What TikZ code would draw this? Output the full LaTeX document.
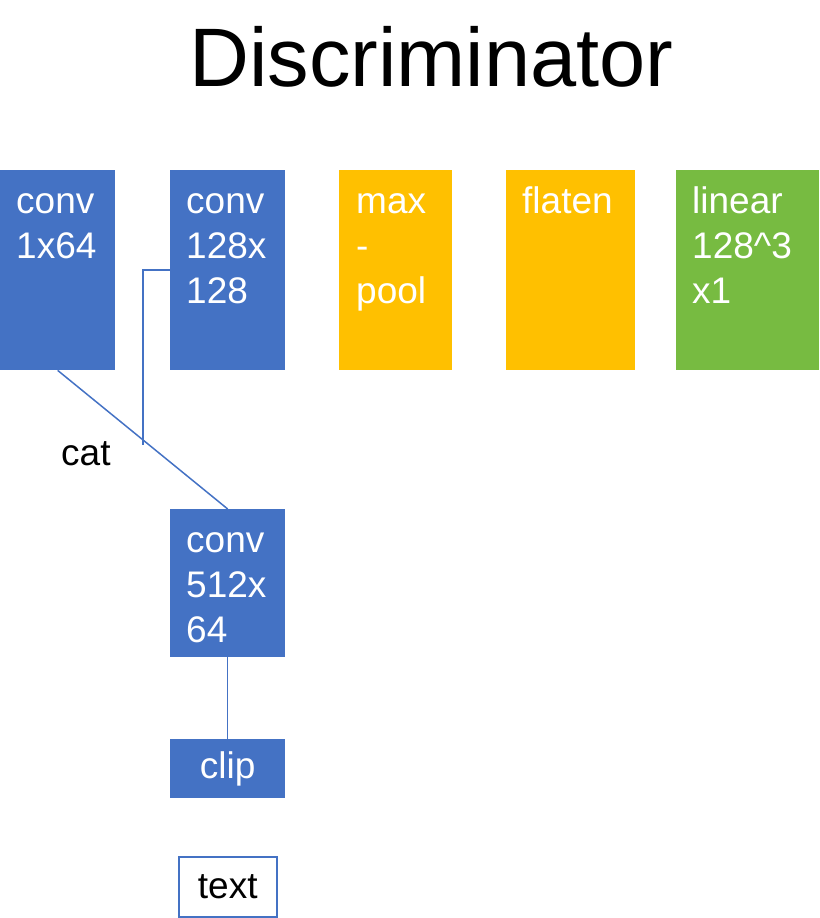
\documentclass[tikz,border=0pt]{standalone}
\usepackage{fontspec}
\setmainfont{Liberation Sans}
\usepackage{tikz}

\definecolor{convblue}{RGB}{68,114,196}
\definecolor{poolorange}{RGB}{255,192,0}
\definecolor{lingreen}{RGB}{119,187,65}

\begin{document}
\begin{tikzpicture}[x=1pt,y=-1pt,
    blk/.style={rectangle,anchor=north west,inner sep=0pt,draw=none},
    txt/.style={anchor=north west,inner sep=0pt,align=left,text=white,
        font=\fontsize{37}{45}\selectfont},
    link/.style={draw=convblue,line width=1.5pt}]
    \useasboundingbox (0,0) rectangle (819,918);
    \node [anchor=base,inner sep=0pt,font=\fontsize{83}{100}\selectfont] (title) at (431.5,86) {Discriminator};

    \begin{scope}[minimum height=200pt]
    \node [blk,fill=convblue,minimum width=115pt]  (c1) at (0,170)   {};
    \node [blk,fill=convblue,minimum width=115pt]  (c2) at (170,170) {};
    \node [blk,fill=poolorange,minimum width=113pt] (mp) at (339,170) {};
    \node [blk,fill=poolorange,minimum width=129pt] (fl) at (506,170) {};
    \node [blk,fill=lingreen,minimum width=143pt]  (li) at (676,170) {};
    \end{scope}
    \node [blk,fill=convblue,minimum width=115pt,minimum height=148pt] (c3) at (170,509) {};
    \node [blk,fill=convblue,minimum width=115pt,minimum height=59pt,text=white,
        font=\fontsize{37}{45}\selectfont] (clip) at (170,739) {clip};
    \node [blk,draw=convblue,line width=1.5pt,fill=white,minimum width=98pt,minimum height=60pt,
        font=\fontsize{37}{45}\selectfont] (tx) at (178,856) {text};

    \node [txt] (c1txt) at ([shift={(16,11.5)}]c1.north west) {\strut conv\\1x64};
    \node [txt] (c2txt) at ([shift={(16,11.5)}]c2.north west) {\strut conv\\128x\\128};
    \node [txt] (mptxt) at ([shift={(17,11.5)}]mp.north west) {\strut max\\-\\pool};
    \node [txt] (fltxt) at ([shift={(16,11.5)}]fl.north west) {\strut flaten};
    \node [txt] (litxt) at ([shift={(16,11.5)}]li.north west) {\strut linear\\128\textasciicircum3\\x1};
    \node [txt] (c3txt) at ([shift={(16,11.5)}]c3.north west) {\strut conv\\512x\\64};

    \node [anchor=base west,inner sep=0pt,font=\fontsize{37}{45}\selectfont] (cat) at (61,465) {cat};
    \coordinate (catend) at (143,445);

    \draw [link] (c1.south) -- (c3.north);
    \draw [link] (c2.west) -| (catend);
    \draw [link] (c3.south) -- (clip.north);
\end{tikzpicture}
\end{document}
